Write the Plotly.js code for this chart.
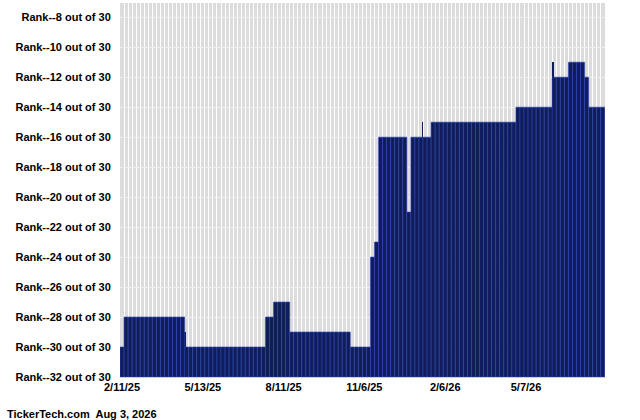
<!DOCTYPE html>
<html>
<head>
<meta charset="utf-8">
<script src="https://cdn.plot.ly/plotly-3.0.1.min.js"></script>
<style>
  html, body { margin: 0; padding: 0; background: #ffffff; }
  #chart { width: 640px; height: 420px; }
</style>
</head>
<body>
<div id="chart"></div>
<script>
// rank per period (negative rank)
const ranks = [
  -30, -28, -28, -28, -28, -28, -28, -28, -28, -28,
  -28, -28, -28, -28, -28, -28, -30, -30, -30, -30,
  -30, -30, -30, -30, -30, -30, -30, -30, -30, -30,
  -30, -30, -30, -30, -30, -30, -28, -28, -27, -27,
  -27, -27, -29, -29, -29, -29, -29, -29, -29, -29,
  -29, -29, -29, -29, -29, -29, -29, -30, -30, -30,
  -30, -30, -24, -23, -16, -16, -16, -16, -16, -16,
  -16, -21, -16, -16, -16, -16, -16, -15, -15, -15,
  -15, -15, -15, -15, -15, -15, -15, -15, -15, -15,
  -15, -15, -15, -15, -15, -15, -15, -15, -14, -14,
  -14, -14, -14, -14, -14, -14, -14, -12, -12, -12,
  -12, -11, -11, -11, -11, -12, -14, -14, -14, -14
];
// short one-day moves between periods
const blipPos = [15.6, 74.3, 106.7];
const blipRank = [-29, -15, -11];
const dateTickPos = [0, 20, 40, 60, 80, 100];
const dateTickText = ['2/11/25', '5/13/25', '8/11/25', '11/6/25', '2/6/26', '5/7/26'];
const rankTicks = [-8, -10, -12, -14, -16, -18, -20, -22, -24, -26, -28, -30, -32];
const footer = 'TickerTech.com  Aug 3, 2026';

(function () {
  window.addEventListener('load', init);

  const BASE = -32;

  function init() {
    let xs = [];
    let heights = [];
    for (let i = 0; i < ranks.length; i++) {
      xs.push(i);
      heights.push(ranks[i] - BASE);
    }

    var bars = {
      x: xs,
      y: heights,
      base: BASE,
      type: 'bar',
      width: 1,
      marker: {
        color: '#111d5a',
        line: { color: '#2845b2', width: 0.6 }
      },
      hoverinfo: 'none'
    };

    var blips = {
      x: blipPos,
      y: blipRank.map(function (r) { return r - BASE; }),
      base: BASE,
      type: 'bar',
      width: 0.3,
      marker: { color: '#111d5a', line: { width: 0 } },
      hoverinfo: 'none'
    };

    var tickFont = { family: 'Liberation Sans, Arial, sans-serif', size: 11, color: '#000000', weight: 'bold' };

    var layout = {
      width: 640,
      height: 420,
      margin: { l: 120, r: 35, t: 3, b: 43 },
      paper_bgcolor: '#ffffff',
      plot_bgcolor: '#dcdcdc',
      showlegend: false,
      barmode: 'overlay',
      bargap: 0,
      xaxis: {
        range: [-0.5, 119.55],
        tickvals: dateTickPos,
        ticktext: dateTickText,
        tickfont: tickFont,
        ticks: '',
        showgrid: false,
        zeroline: false,
        showline: true,
        linecolor: '#cccccc',
        linewidth: 1,
        minor: {
          tick0: 0.5,
          dtick: 1,
          showgrid: true,
          gridcolor: '#ffffff',
          gridwidth: 1,
          ticks: ''
        },
        fixedrange: true
      },
      yaxis: {
        range: [-32, -7.05],
        tickvals: rankTicks,
        ticktext: rankTicks.map(function (v) { return 'Rank-' + v + ' out of 30'; }),
        tickfont: tickFont,
        ticks: 'outside',
        ticklen: 6,
        tickcolor: 'rgba(0,0,0,0)',
        showgrid: true,
        gridcolor: '#eeeeee',
        gridwidth: 1,
        zeroline: false,
        fixedrange: true
      },
      annotations: [{
        text: footer,
        xref: 'paper',
        yref: 'paper',
        x: -115 / 485,
        y: -37 / 374,
        xanchor: 'left',
        yanchor: 'middle',
        showarrow: false,
        font: tickFont
      }]
    };

    Plotly.newPlot('chart', [blips, bars], layout, { staticPlot: true, displayModeBar: false });
  }
})();
</script>
</body>
</html>
